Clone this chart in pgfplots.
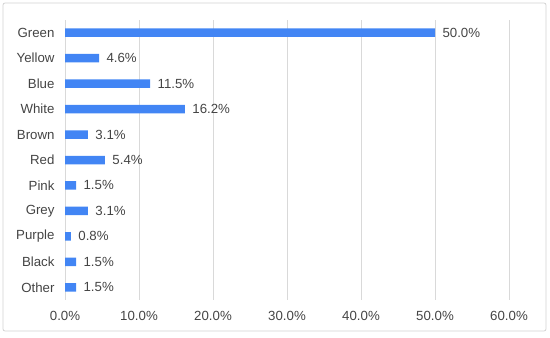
\documentclass[border=0pt]{standalone}
\usepackage{pgfplots}
\pgfplotsset{compat=1.18}
\usepackage{fontspec}
\setmainfont{Liberation Sans}
\definecolor{barblue}{RGB}{66,133,244}
\definecolor{txt}{RGB}{68,68,68}
\definecolor{gridc}{RGB}{217,217,217}
\definecolor{framec}{RGB}{210,210,210}
\begin{document}
\begin{tikzpicture}
\useasboundingbox (0bp,0bp) rectangle (550bp,338bp);
\draw[framec, rounded corners=2bp, line width=0.8bp] (3bp,7bp) rectangle (546bp,335bp);
\begin{axis}[
  at={(65bp,38bp)}, anchor=south west,
  scale only axis, width=444bp, height=280bp,
  xbar, bar width=8.5bp,
  xmin=0, xmax=60, xtick={0,10,...,60},
  ymin=-0.5, ymax=10.5, y dir=reverse,
  ytick={0,...,10},
  yticklabels={Green,Yellow,Blue,White,Brown,Red,Pink,Grey,Purple,Black,Other},
  axis line style={draw=none},
  major tick length=0pt,
  xmajorgrids, grid style={gridc, line width=0.8bp},
  /pgf/number format/assume math mode=true,
  font=\fontsize{13.3}{15}\selectfont,
  tick label style={txt, font=\fontsize{13.3}{15}\selectfont},
  xticklabel={\pgfmathprintnumber[fixed,fixed zerofill,precision=1]{\tick}\%},
  xticklabel style={yshift=-8bp},
  yticklabel style={xshift=-7bp},
  nodes near coords={\pgfmathprintnumber[fixed,fixed zerofill,precision=1]{\pgfplotspointmeta}\%},
  nodes near coords align={horizontal},
  nodes near coords style={txt, font=\fontsize{13.3}{15}\selectfont, xshift=4bp},
  point meta=explicit,
]
\addplot[draw=none, fill=barblue] coordinates {
(50.0,0) [50.0]
(4.6,1) [4.6]
(11.5,2) [11.5]
(16.2,3) [16.2]
(3.1,4) [3.1]
(5.4,5) [5.4]
(1.5,6) [1.5]
(3.1,7) [3.1]
(0.8,8) [0.8]
(1.5,9) [1.5]
(1.5,10) [1.5]
};
\end{axis}
\end{tikzpicture}
\end{document}
